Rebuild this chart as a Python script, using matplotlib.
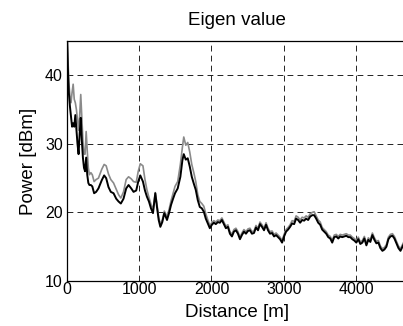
import matplotlib
matplotlib.use('Agg')
import matplotlib.pyplot as plt

plt.rcParams['font.family'] = ['Liberation Sans', 'DejaVu Sans']

# Distance along the route [m]
dist = [0, 12, 25, 40, 55, 70, 85, 100, 115, 130,
        145, 160, 175, 190, 205, 220, 235, 250, 265, 280,
        295, 310, 330, 350, 375, 403, 435, 481, 514, 542,
        574, 606, 644, 681, 713, 745, 782, 819, 852, 889,
        921, 958, 986, 1014, 1051, 1079, 1106, 1134, 1162, 1190,
        1222, 1245, 1269, 1292, 1319, 1347, 1366, 1384, 1412, 1440,
        1468, 1495, 1532, 1569, 1597, 1616, 1644, 1671, 1699, 1727,
        1755, 1782, 1810, 1838, 1866, 1894, 1921, 1949, 1977,
        2005, 2032, 2060, 2088, 2116, 2144, 2171, 2199, 2227, 2255,
        2283, 2310, 2338, 2366, 2394, 2421, 2449, 2477, 2505, 2532,
        2560, 2588, 2616, 2644, 2671, 2699, 2727, 2755, 2782, 2810,
        2838, 2866, 2894, 2921, 2949, 2977, 3005, 3032, 3060, 3088,
        3116, 3144, 3171, 3199, 3227, 3255, 3282, 3310, 3338, 3366,
        3394, 3421, 3449, 3477, 3505, 3532, 3560, 3588, 3616, 3644,
        3671, 3699, 3727, 3755, 3782, 3810, 3838, 3866, 3894, 3921,
        3949, 3977, 4005, 4032, 4060, 4088, 4116, 4144, 4171, 4199,
        4227, 4255, 4282, 4310, 4338, 4366, 4394, 4421, 4449, 4477,
        4505, 4532, 4560, 4588, 4616, 4643, 4667]

# first eigenvalue power [dBm] (grey)
eig1 = [46, 42.5, 39, 37, 36, 37.5, 38.7, 36.5, 36, 35,
        33.5, 32, 34, 37.2, 34, 30.5, 28.5, 28.5, 31.8, 29,
        26.5, 25.5, 25.8, 25.5, 24.5, 24.8, 25.0, 26.3, 27.0, 26.8,
        25.6, 24.8, 24.3, 23.4, 22.6, 22.1, 23.0, 24.8, 25.2, 24.9,
        24.5, 24.4, 26.0, 27.1, 26.8, 24.8, 23.3, 22.2, 21.2, 20.4,
        22.9, 21.2, 19.3, 18.3, 18.9, 20.2, 19.8, 19.3, 20.4, 21.7,
        22.8, 23.8, 24.5, 27.0, 29.5, 31.0, 29.8, 30.2, 28.8, 27.0,
        25.8, 24.5, 22.6, 21.6, 21.3, 20.9, 19.8, 18.9, 18.1,
        18.5, 18.8, 18.6, 18.9, 18.8, 19.2, 18.6, 18.0, 18.2, 17.2,
        16.8, 17.5, 17.7, 17.2, 16.4, 17.0, 17.5, 17.2, 17.6, 17.7,
        17.2, 17.3, 18.1, 17.7, 18.6, 18.2, 17.7, 18.5, 17.7, 17.2,
        17.3, 16.8, 17.0, 16.7, 16.4, 15.9, 16.8, 17.5, 17.8, 18.2,
        18.8, 18.7, 19.5, 19.3, 18.9, 19.3, 19.2, 19.5, 19.3, 19.8,
        20.0, 20.1, 19.5, 18.9, 18.6, 17.8, 17.5, 17.2, 16.7, 16.5,
        15.9, 16.7, 16.8, 16.5, 16.8, 16.7, 16.8, 16.9, 16.7, 16.7,
        16.4, 16.2, 15.9, 16.4, 15.7, 15.9, 16.5, 15.5, 16.3, 16.0,
        17.0, 16.3, 15.8, 15.9, 15.1, 14.7, 14.9, 15.3, 16.4, 16.8,
        16.9, 16.5, 15.8, 15.1, 14.7, 15.3, 15.8]

# second eigenvalue power [dBm] (black)
eig2 = [46, 41, 37.5, 35.5, 34, 32.5, 33, 32.5, 34.2, 32,
        30, 28.5, 31.5, 33.8, 30.5, 28, 26.5, 26, 28, 25.5,
        24.3, 24, 24, 23.8, 22.8, 23.0, 23.5, 24.7, 25.4, 25.0,
        23.7, 23.0, 22.8, 22.0, 21.6, 21.3, 22.0, 23.5, 24.0, 23.5,
        23.0, 23.2, 24.5, 25.4, 24.5, 23.2, 22.3, 21.6, 20.6, 19.9,
        22.8, 20.8, 18.9, 17.9, 18.6, 19.9, 19.4, 18.9, 19.9, 21.1,
        22.0, 22.8, 23.5, 25.2, 27.6, 28.5, 27.7, 27.9, 26.7, 25.2,
        24.2, 23.3, 21.8, 20.8, 20.6, 20.1, 19.1, 18.4, 17.7,
        18.2, 18.5, 18.3, 18.6, 18.5, 18.9, 18.3, 17.7, 17.9, 16.9,
        16.5, 17.2, 17.4, 16.9, 16.1, 16.7, 17.2, 16.9, 17.3, 17.4,
        16.9, 17.0, 17.8, 17.4, 18.3, 17.9, 17.4, 18.2, 17.4, 16.9,
        17.0, 16.5, 16.7, 16.4, 16.1, 15.6, 16.5, 17.2, 17.5, 17.9,
        18.4, 18.3, 19.1, 18.9, 18.5, 18.9, 18.8, 19.1, 18.9, 19.4,
        19.6, 19.6, 19.1, 18.5, 18.2, 17.5, 17.2, 16.9, 16.4, 16.2,
        15.6, 16.4, 16.5, 16.2, 16.5, 16.4, 16.5, 16.6, 16.4, 16.4,
        16.1, 15.9, 15.6, 16.1, 15.4, 15.6, 16.2, 15.2, 16.0, 15.7,
        16.7, 16.0, 15.5, 15.6, 14.8, 14.4, 14.6, 15.0, 16.1, 16.5,
        16.6, 16.2, 15.5, 14.8, 14.4, 15.0, 15.5]

xticks = [0, 1000, 2000, 3000, 4000]
yticks = [10, 20, 30, 40]

fig = plt.figure(figsize=(4.03, 3.26), dpi=100)
ax = fig.add_axes([0.1663, 0.138, 0.8425, 0.7362])

ax.plot(dist, eig1, color='#8a8a8a', lw=1.2)
ax.plot(dist, eig2, color='black', lw=1.4)

ax.set_xlim(0, 4700)
ax.set_ylim(10, 45)
ax.set_xticks(xticks)
ax.set_yticks(yticks)

# matlab-like dashed grid
ax.grid(True, color='black', lw=0.6, linestyle=(0, (7, 5)))
ax.set_axisbelow(True)

ax.tick_params(length=0, labelsize=11.5, colors='black')
ax.tick_params(axis='x', pad=1)
ax.tick_params(axis='y', pad=3)

ax.spines['right'].set_visible(False)
for s in ['left', 'bottom', 'top']:
    ax.spines[s].set_linewidth(0.9)

ax.set_title('Eigen value', fontsize=13.5, pad=11.5)
ax.set_xlabel('Distance [m]', fontsize=13.5, labelpad=5)
ax.set_ylabel('Power [dBm]', fontsize=13.5, labelpad=6)

plt.savefig('out.png', dpi=100)
